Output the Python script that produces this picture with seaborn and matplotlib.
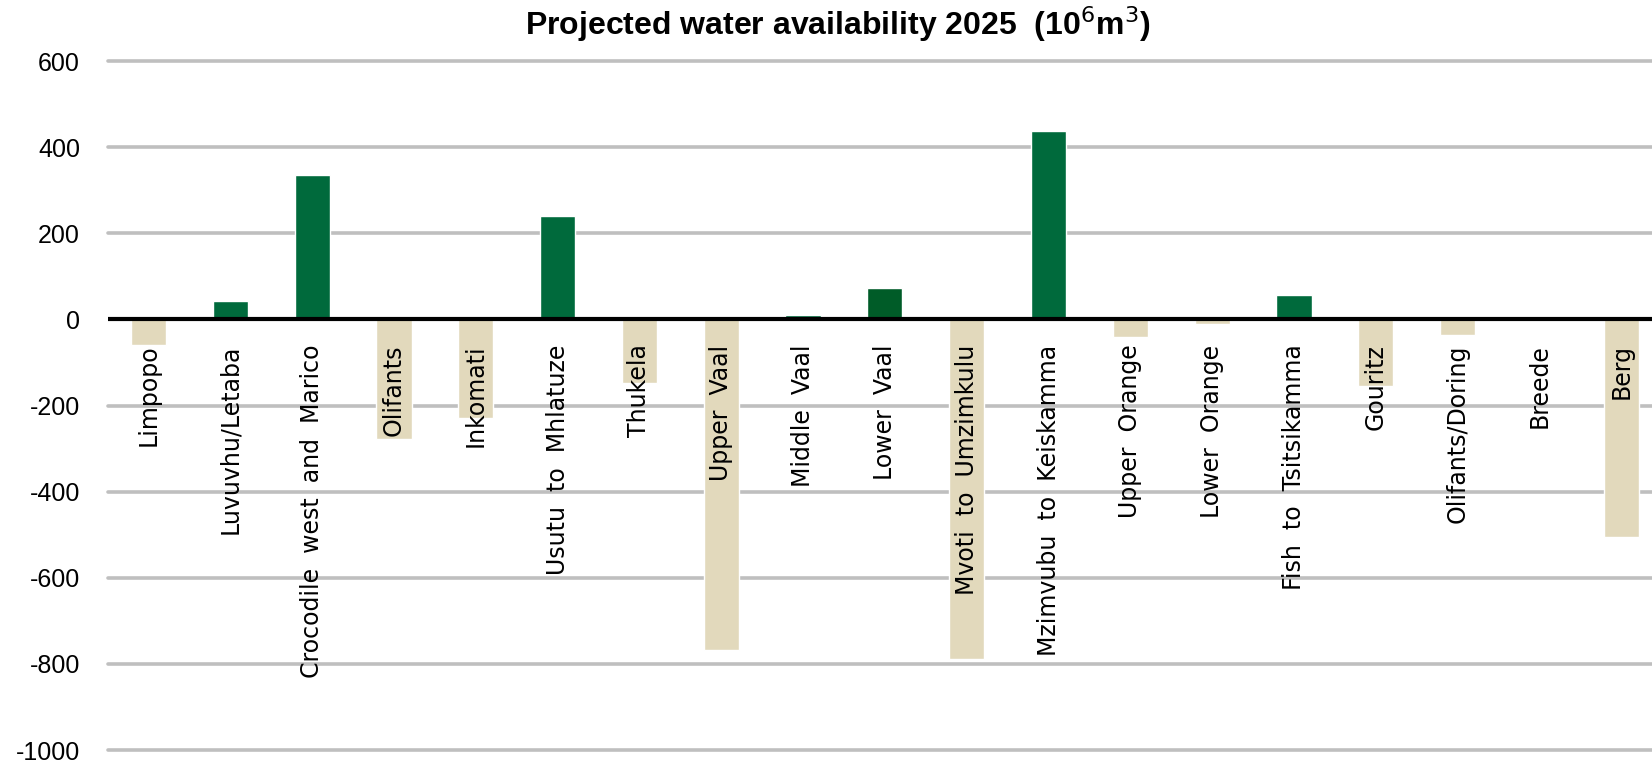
import seaborn as sns
import matplotlib.pyplot as plt
import pandas as pd

# Catchment areas and projected availability 2025 (10^6 m3)
areas = ["Limpopo", "Luvuvhu/Letaba", "Crocodile  west  and  Marico", "Olifants",
         "Inkomati", "Usutu  to  Mhlatuze", "Thukela", "Upper  Vaal", "Middle  Vaal",
         "Lower  Vaal", "Mvoti  to  Umzimkulu", "Mzimvubu  to  Keiskamma",
         "Upper  Orange", "Lower  Orange", "Fish  to  Tsitsikamma", "Gouritz",
         "Olifants/Doring", "Breede", "Berg"]
availability = [-60, 42, 335, -278, -229, 240, -148, -767, 10, 72, -788, 437,
                -41, -11, 56, -155, -36, 0, -506]
yticks = [-1000, -800, -600, -400, -200, 0, 200, 400, 600]

green = "#006a3c"
dark_green = "#005c28"
tan = "#e2d9bc"
colors = [green if v > 0 else tan for v in availability]
colors[areas.index("Lower  Vaal")] = dark_green

df = pd.DataFrame({"area": areas, "value": availability})

sns.set_style("white")
plt.rcParams['font.family'] = ['Liberation Sans', 'DejaVu Sans']
plt.rcParams['text.color'] = 'black'
plt.rcParams['ytick.color'] = 'black'

fig = plt.figure(figsize=(16.52, 7.63), dpi=100)
ax = fig.add_axes([0.0652, 0.017, 0.9409, 0.903])

sns.barplot(data=df, x="area", y="value", hue="area", palette=colors,
            legend=False, width=0.43, saturation=1, ax=ax)

ax.set_ylim(-1000, 600)
ax.set_xlim(-0.5, len(areas) - 0.5)
ax.set_yticks(yticks)
ax.set_yticklabels([str(t) for t in yticks], fontsize=18, color="black")
ax.tick_params(axis='y', length=0, pad=20)
ax.set_xticks([])
ax.set_xlabel("")
ax.set_ylabel("")
for s in ax.spines.values():
    s.set_visible(False)

for t in yticks:
    if t != 0:
        ax.axhline(t, color="#bfbfbf", lw=2.6, zorder=0, clip_on=False)
ax.axhline(0, color="black", lw=3, zorder=3)

# category labels sit inside the plot, just under the zero line
for i, name in enumerate(areas):
    ax.text(i, -58, name, rotation=90, ha="center", va="top", color="black",
            fontsize=17, family="DejaVu Sans", zorder=4)

fig.text(0.507, 0.969, "Projected water availability 2025  (10$^6$m$^3$)",
         ha="center", va="center", fontsize=23, fontweight="bold", color="black")

fig.savefig("out.png", dpi=100)
